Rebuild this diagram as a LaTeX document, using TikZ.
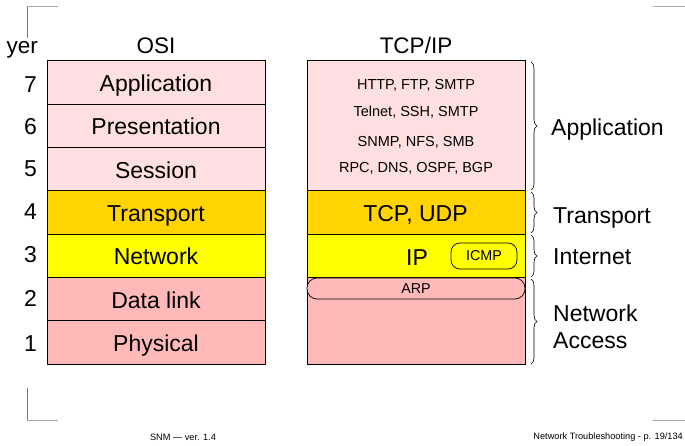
\documentclass[tikz,border=0pt]{standalone}
\usepackage{fontspec}
\setmainfont{Liberation Sans}
\usetikzlibrary{decorations.pathreplacing}
\definecolor{apppink}{RGB}{255,223,223}
\definecolor{gold}{RGB}{255,212,0}
\definecolor{ipyellow}{RGB}{255,255,0}
\definecolor{linkpink}{RGB}{255,185,185}
\definecolor{markdark}{RGB}{120,120,120}
\definecolor{marklight}{RGB}{170,170,170}
\tikzset{
  layerbox/.style={draw=black, line width=0.9pt, minimum width=218pt, inner sep=0pt,
    font=\fontsize{23}{26}\selectfont, text height=20pt, text depth=2pt},
  smalltxt/.style={font=\fontsize{14.5}{17}\selectfont, inner sep=0pt},
  bigtxt/.style={font=\fontsize{23}{26}\selectfont, inner sep=0pt, text height=20pt, text depth=2pt},
  headtxt/.style={font=\fontsize{22.5}{26}\selectfont, inner sep=0pt, text height=20pt, text depth=2pt},
  pill/.style={draw=black, line width=0.7pt, rounded corners=9pt, inner sep=0pt, font=\fontsize{14.3}{17}\selectfont},
  bracestyle/.style={decorate, decoration={brace, amplitude=6pt}, line width=0.6pt},
  cornermark/.style={line width=1pt},
  foot/.style={font=\fontsize{9.2}{11}\selectfont, inner sep=0pt}
}
\begin{document}
\begin{tikzpicture}[x=1pt,y=-1pt]
\useasboundingbox (0,0) rectangle (685,446);
% corner marks
\coordinate (tl1) at (27,38); \coordinate (tl2) at (27,7); \coordinate (tl3) at (58,7);
\draw[cornermark, markdark] (tl1) -- (tl2);
\draw[cornermark, marklight] (tl2) -- (tl3);
\coordinate (tr1) at (653,7); \coordinate (tr2) at (685,7);
\draw[cornermark, marklight] (tr1) -- (tr2);
\coordinate (bl1) at (27,388); \coordinate (bl2) at (27,420); \coordinate (bl3) at (58,420);
\draw[cornermark, markdark] (bl1) -- (bl2);
\draw[cornermark, marklight] (bl2) -- (bl3);
\coordinate (br1) at (653,420); \coordinate (br2) at (685,420);
\draw[cornermark, marklight] (br1) -- (br2);
% headers
\node[headtxt, anchor=east] (yer) at (38,44.5) {yer};
\node[headtxt] (osi) at (156,44.5) {OSI};
\node[headtxt] (tcpip) at (416,44.5) {TCP/IP};
% OSI stack
\node[layerbox, fill=apppink, minimum height=43.3pt] (l7) at (156,82.6) {Application};
\node[layerbox, fill=apppink, minimum height=43.3pt] (l6) at (156,125.9) {Presentation};
\node[layerbox, fill=apppink, minimum height=43.3pt] (l5) at (156,169.2) {Session};
\node[layerbox, fill=gold, minimum height=43.3pt] (l4) at (156,212.5) {Transport};
\node[layerbox, fill=ipyellow, minimum height=43.3pt] (l3) at (156,255.8) {Network};
\node[layerbox, fill=linkpink, minimum height=43.3pt] (l2) at (156,299.1) {Data link};
\node[layerbox, fill=linkpink, minimum height=43.3pt] (l1) at (156,342.4) {Physical};
% numbers
\node[bigtxt, anchor=east] (n7) at (37,84) {7};
\node[bigtxt, anchor=east] (n6) at (37,125.5) {6};
\node[bigtxt, anchor=east] (n5) at (37,168) {5};
\node[bigtxt, anchor=east] (n4) at (37,211) {4};
\node[bigtxt, anchor=east] (n3) at (37,254) {3};
\node[bigtxt, anchor=east] (n2) at (37,297) {2};
\node[bigtxt, anchor=east] (n1) at (37,342) {1};
% TCP/IP stack
\node[layerbox, fill=apppink, minimum height=129.9pt] (tapp) at (416,125.9) {};
\node[layerbox, fill=gold, minimum height=43.3pt] (ttr) at (416,212.5) {};
\node[layerbox, fill=ipyellow, minimum height=43.3pt] (tip) at (416,255.8) {};
\node[layerbox, fill=linkpink, minimum height=86.6pt] (tna) at (416,320.75) {};
\node[smalltxt] (p1) at (416,85) {HTTP, FTP, SMTP};
\node[smalltxt] (p2) at (416,112) {Telnet, SSH, SMTP};
\node[smalltxt] (p3) at (416,142) {SNMP, NFS, SMB};
\node[smalltxt] (p4) at (416,168.5) {RPC, DNS, OSPF, BGP};
\node[bigtxt] (tcpudp) at (415.5,212.5) {TCP, UDP};
\node[bigtxt] (iptxt) at (417,256.5) {IP};
\node[pill, fill=ipyellow, minimum width=66pt, minimum height=26pt] (icmp) at (484,256) {ICMP};
\node[pill, fill=linkpink, minimum width=218pt, minimum height=21pt, rounded corners=10pt] (arp) at (416,288.5) {ARP};
% braces
\coordinate (b1a) at (531,62); \coordinate (b1b) at (531,190);
\coordinate (b2a) at (531,192); \coordinate (b2b) at (531,233);
\coordinate (b3a) at (531,235); \coordinate (b3b) at (531,277);
\coordinate (b4a) at (531,279); \coordinate (b4b) at (531,364);
\draw[bracestyle] (b1a) -- (b1b);
\draw[bracestyle] (b2a) -- (b2b);
\draw[bracestyle] (b3a) -- (b3b);
\draw[bracestyle] (b4a) -- (b4b);
\node[bigtxt, anchor=west] (rapp) at (551,127) {Application};
\node[bigtxt, anchor=west] (rtr) at (553,214.5) {Transport};
\node[bigtxt, anchor=west] (rint) at (553,256) {Internet};
\node[bigtxt, anchor=west] (rna1) at (553,312) {Network};
\node[bigtxt, anchor=west] (rna2) at (553,339) {Access};
% footer
\node[foot] (f1) at (183,437) {SNM — ver. 1.4};
\node[foot, anchor=east] (f2) at (683,437) {Network Troubleshooting - p. 19/134};
\end{tikzpicture}
\end{document}
